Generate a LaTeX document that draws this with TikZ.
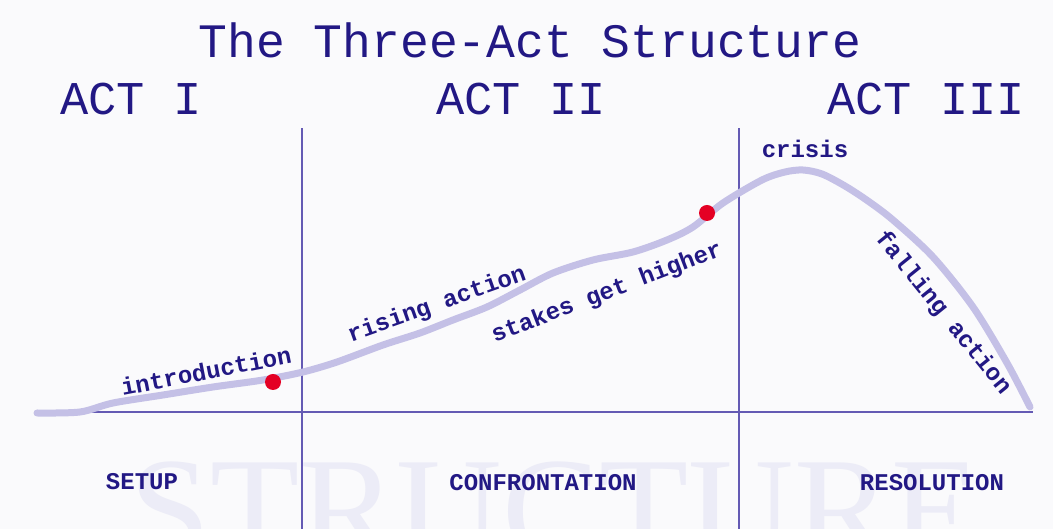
\documentclass[tikz,border=0pt]{standalone}
\usepackage{fontspec}
\setmainfont{Liberation Serif}
\setmonofont{Liberation Mono}
\usetikzlibrary{calc, positioning}

\definecolor{inkblue}{RGB}{34,24,132}
\definecolor{axisblue}{RGB}{100,90,180}
\definecolor{arcblue}{RGB}{196,192,230}
\definecolor{dotred}{RGB}{228,0,36}
\definecolor{markgray}{RGB}{236,236,247}
\definecolor{paper}{RGB}{250,250,252}

\begin{document}
\begin{tikzpicture}[x=1pt,y=1pt,
    heading/.style={text=inkblue, font=\ttfamily\fontsize{47}{47}\selectfont, anchor=base, inner sep=0pt},
    tag/.style={text=inkblue, font=\ttfamily\bfseries\fontsize{24}{24}\selectfont, inner sep=0pt},
    axis/.style={draw=axisblue, line width=1.2pt},
    arc/.style={draw=arcblue, line width=7pt, line cap=round, line join=round},
    beat/.style={circle, fill=dotred, minimum size=16pt, inner sep=0pt}]
\def\xL{38}
\def\xR{1033}
\def\xA{302}
\def\xB{739}
\def\yBase{117}
\def\yTop{401}

\clip (0,0) rectangle (1053,529);
\fill[paper] (0,0) rectangle (1053,529);

% faint word behind the lower band
\node[text=markgray, font=\fontsize{146}{146}\selectfont, anchor=base, inner sep=0pt] (mark) at (555,-30) {STRUCTURE};

\coordinate (O) at (\xL,\yBase);
\coordinate (E) at (\xR,\yBase);
\coordinate (A0) at (\xA,0);
\coordinate (A1) at (\xA,\yTop);
\coordinate (B0) at (\xB,0);
\coordinate (B1) at (\xB,\yTop);

\draw[axis] (O) -- (E);
\draw[axis] (A0) -- (A1);
\draw[axis] (B0) -- (B1);

% the story line
\draw[arc] plot[smooth, tension=0.5] coordinates {
  (37,116) (80,117) (113,126) (163,134) (213,142) (263,149) (303,157)
  (337,167) (383,184) (420,196) (453,209) (487,222) (520,239) (553,256)
  (593,269) (633,277) (667,289) (693,302) (723,326) (762,349) (785,357)
  (803,359) (822,355) (845,343) (868,328) (893,309) (933,272) (973,222)
  (1007,166) (1030,122)};

\node[beat] (p1) at (273,147) {};
\node[beat] (p2) at (707,316) {};

\node[text=inkblue, font=\ttfamily\fontsize{48}{48}\selectfont, anchor=base, inner sep=0pt] (title) at (530,471) {The Three-Act Structure};

\node[heading] (act1) at (131,414) {ACT I};
\node[heading] (act2) at (521,414) {ACT II};
\node[heading] (act3) at (926,414) {ACT III};

\node[tag, rotate=11] (intro) at (206,158) {introduction};
\node[tag, rotate=19.5] (rise) at (437,224) {rising action};
\node[tag, rotate=21] (stakes) at (607,236) {stakes get higher};
\node[tag, anchor=base] (crisis) at (805,371) {crisis};
\node[tag, rotate=-51] (fall) at (943,216) {falling action};

\node[tag, anchor=base] (setup) at (142,39) {SETUP};
\node[tag, anchor=base] (conf) at (543,38) {CONFRONTATION};
\node[tag, anchor=base] (reso) at (932,38) {RESOLUTION};

\end{tikzpicture}
\end{document}
